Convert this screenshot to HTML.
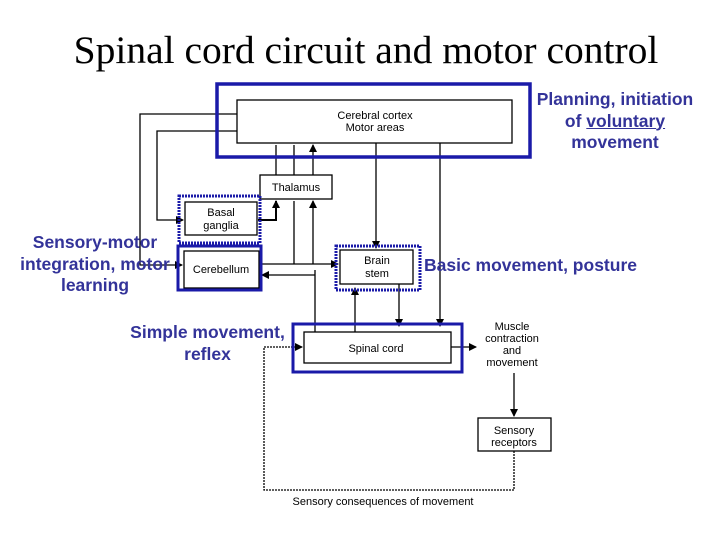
<!DOCTYPE html>
<html><head><style>
body{margin:0;background:#fff;width:720px;height:540px;overflow:hidden;position:relative;font-family:"Liberation Sans",sans-serif}
.t{position:absolute;left:0;width:732px;text-align:center;top:27px;font-family:"Liberation Serif",serif;font-size:39.5px;color:#000}
.b{position:absolute;color:#333399;font-weight:bold;font-size:17.5px;text-align:center;line-height:21.5px}
</style></head><body>
<div class="t">Spinal cord circuit and motor control</div>
<svg width="720" height="540" style="position:absolute;left:0;top:0" font-family="Liberation Sans, sans-serif" font-size="11">
<defs><marker id="a" markerWidth="8" markerHeight="8" refX="7" refY="4" orient="auto" markerUnits="userSpaceOnUse"><path d="M0,0L8,4L0,8z" fill="#000"/></marker></defs>
<g stroke="#000" stroke-width="1.3" fill="none">
<rect x="237" y="100" width="275" height="43" fill="#fff"/>
<rect x="260" y="175" width="72" height="24"/>
<rect x="185" y="202" width="72" height="33"/>
<rect x="184" y="251" width="75" height="37"/>
<rect x="340" y="250" width="73" height="34"/>
<rect x="304" y="332" width="147" height="31"/>
<rect x="478" y="418" width="73" height="33"/>
<path d="M237,114H140V265H182" marker-end="url(#a)"/>
<path d="M237,131H157V220H183" marker-end="url(#a)"/>
<path d="M276,175V145M294,175V145M313,175V145" marker-end="url(#a)"/>
<path d="M258,220H276V201" marker-end="url(#a)" stroke-width="2"/>
<path d="M294,264V201M313,264V201" marker-end="url(#a)"/>
<path d="M260,264H338" marker-end="url(#a)"/>
<path d="M315,275H262" marker-end="url(#a)"/>
<path d="M315,270V332"/>
<path d="M376,143V248" marker-end="url(#a)"/>
<path d="M440,143V326" marker-end="url(#a)"/>
<path d="M355,332V288" marker-end="url(#a)"/>
<path d="M399,284V326" marker-end="url(#a)"/>
<path d="M451,347H476" marker-end="url(#a)"/>
<path d="M514,373V416" marker-end="url(#a)"/>
<path d="M514,451V490H264V347H302" stroke-dasharray="2,1" marker-end="url(#a)"/>
</g>
<g fill="none" stroke="#1a1aa8">
<rect x="217" y="84" width="313" height="73" stroke-width="3.5"/>
<rect x="179" y="196" width="81" height="47" stroke-width="3" stroke-dasharray="2,1"/>
<rect x="178" y="246" width="83" height="44" stroke-width="3"/>
<rect x="336" y="246" width="84" height="44" stroke-width="3" stroke-dasharray="2,1"/>
<rect x="293" y="324" width="169" height="48" stroke-width="3"/>
</g>
<g fill="#000" text-anchor="middle">
<text x="375" y="119">Cerebral cortex</text><text x="375" y="131">Motor areas</text>
<text x="296" y="191">Thalamus</text>
<text x="221" y="216">Basal</text><text x="221" y="229">ganglia</text>
<text x="221" y="273">Cerebellum</text>
<text x="377" y="264">Brain</text><text x="377" y="277">stem</text>
<text x="376" y="352">Spinal cord</text>
<text x="512" y="330">Muscle</text><text x="512" y="342">contraction</text><text x="512" y="354">and</text><text x="512" y="366">movement</text>
<text x="514" y="434">Sensory</text><text x="514" y="446">receptors</text>
<text x="383" y="505">Sensory consequences of movement</text>
</g>
</svg>
<div class="b" style="left:515px;top:89px;width:200px">Planning, initiation<br>of <u>voluntary</u><br>movement</div>
<div class="b" style="left:5px;top:232px;width:180px">Sensory-motor<br>integration, motor<br>learning</div>
<div class="b" style="left:424px;top:255px;width:240px;text-align:left">Basic movement, posture</div>
<div class="b" style="left:115px;top:322px;width:185px">Simple movement,<br>reflex</div>
</body></html>
